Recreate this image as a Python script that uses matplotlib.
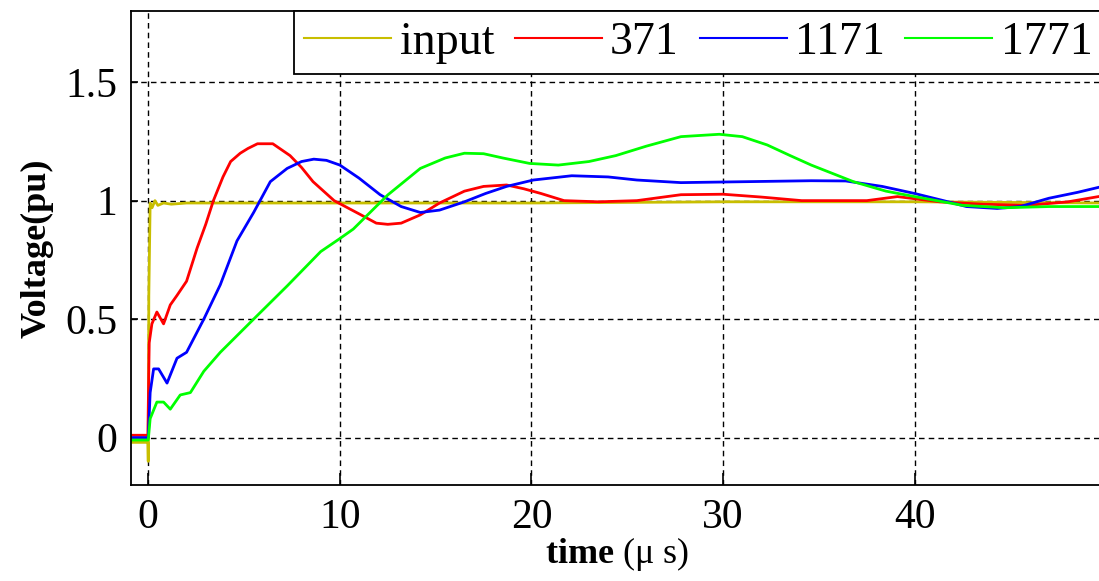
import matplotlib.pyplot as plt

plt.rcParams['font.family'] = ['Liberation Serif', 'DejaVu Serif']
plt.rcParams['mathtext.fontset'] = 'custom'
plt.rcParams['mathtext.rm'] = 'Liberation Serif'
plt.rcParams['mathtext.bf'] = 'Liberation Serif:bold'

# 读取的曲线数据 (time in us, voltage in pu)
x_input = [-0.9, -0.02, 0.0, 0.03, 0.1, 0.2, 0.35, 0.5, 0.8, 1.2, 2.0, 3.0, 5.0, 10.0, 20.0, 30.0, 40.0, 49.8]
y_input = [-0.02, -0.02, -0.1, 0.6, 0.99, 0.97, 1.0, 0.98, 0.99, 0.985, 0.99, 0.99, 0.99, 0.99, 0.99, 0.995, 0.995, 0.99]

x_371 = [-0.9, -0.02, 0.05, 0.19, 0.45, 0.8, 1.15, 1.5, 2.0, 2.55, 3.0, 3.4, 3.9, 4.3, 4.8, 5.2, 5.7,
         6.5, 7.4, 8.0, 8.6, 9.7, 11.1, 11.9, 12.5, 13.2, 14.2, 15.2, 16.5, 17.5, 18.7, 19.6, 20.5,
         21.7, 23.5, 25.5, 27.8, 30.0, 32.0, 34.1, 37.5, 39.1, 41.3, 43.5, 45.9, 48.0, 49.8]
y_371 = [0.01, 0.01, 0.4, 0.48, 0.53, 0.48, 0.56, 0.6, 0.66, 0.8, 0.9, 1.0, 1.1, 1.165, 1.2, 1.22, 1.24,
         1.24, 1.19, 1.14, 1.08, 1.0, 0.94, 0.905, 0.9, 0.905, 0.94, 0.99, 1.04, 1.06, 1.066, 1.05, 1.03,
         1.0, 0.995, 1.0, 1.025, 1.027, 1.015, 1.0, 1.0, 1.017, 0.995, 0.985, 0.98, 0.995, 1.02]

x_1171 = [-0.9, 0.0, 0.1, 0.28, 0.54, 0.98, 1.5, 2.0, 2.9, 3.76, 4.63, 5.5, 6.37, 7.25, 8.0, 8.64, 9.3,
          10.0, 11.0, 12.1, 13.2, 14.2, 15.2, 16.5, 17.6, 18.7, 20.1, 22.1, 24.0, 25.5, 27.8, 31.2, 34.6,
          36.4, 38.3, 40.0, 41.5, 42.7, 44.3, 45.5, 47.0, 48.5, 49.8]
y_1171 = [0.0, 0.0, 0.19, 0.29, 0.29, 0.23, 0.335, 0.36, 0.5, 0.645, 0.83, 0.95, 1.08, 1.136, 1.165, 1.175, 1.17,
          1.15, 1.095, 1.025, 0.975, 0.95, 0.96, 0.995, 1.03, 1.06, 1.087, 1.105, 1.1, 1.087, 1.076, 1.08, 1.084,
          1.083, 1.06, 1.03, 1.0, 0.975, 0.967, 0.975, 1.01, 1.035, 1.06]

x_1771 = [-0.9, 0.0, 0.1, 0.45, 0.8, 1.15, 1.67, 2.2, 2.9, 3.76, 5.5, 7.25, 9.0, 10.0, 10.7, 12.5, 14.2,
          15.5, 16.5, 17.5, 18.5, 19.9, 21.4, 23.0, 24.4, 26.0, 27.8, 29.8, 31.0, 32.3, 33.5, 34.6, 36.8,
          38.5, 40.0, 42.5, 44.7, 47.0, 49.8]
y_1771 = [-0.01, -0.01, 0.08, 0.15, 0.15, 0.12, 0.18, 0.19, 0.28, 0.36, 0.5, 0.64, 0.785, 0.84, 0.88, 1.024, 1.136,
          1.18, 1.2, 1.198, 1.18, 1.157, 1.15, 1.165, 1.19, 1.23, 1.27, 1.28, 1.27, 1.235, 1.19, 1.15, 1.08,
          1.04, 1.017, 0.98, 0.97, 0.975, 0.975]

x_ticks = [0, 10, 20, 30, 40]
y_ticks = [0, 0.5, 1, 1.5]
y_tick_labels = ['0', '0.5', '1', '1.5']

fig = plt.figure(figsize=(10.99, 5.81), dpi=100)
ax = fig.add_axes([0.1192, 0.1652, 0.884, 0.8158])

ax.plot(x_input, y_input, color='#C8BE00', linewidth=2.0, label='input')
ax.plot(x_371, y_371, color='#FF0000', linewidth=2.0, label='371')
ax.plot(x_1171, y_1171, color='#0000FF', linewidth=2.0, label='1171')
ax.plot(x_1771, y_1771, color='#00FF00', linewidth=2.0, label='1771')

ax.set_xlim(-0.9, 49.8)
ax.set_ylim(-0.2, 1.8)
ax.set_xticks(x_ticks)
ax.set_yticks(y_ticks)
ax.set_yticklabels(y_tick_labels)
ax.tick_params(axis='both', direction='in', labelsize=30, width=1.2)
ax.tick_params(axis='x', length=9, pad=10)
ax.tick_params(axis='y', length=5, pad=10)
ax.grid(True, color='black', linestyle=(0, (4, 3)), linewidth=1.0)
for s in ax.spines.values():
    s.set_linewidth(1.3)

ax.set_xlabel(r'$\mathbf{time}$ (μ s)', fontsize=26, labelpad=-2)
ax.set_ylabel('Voltage(pu)', fontsize=26, fontweight='bold', labelpad=8)

leg = ax.legend(loc='upper right', ncol=4, fontsize=33, frameon=True, fancybox=False,
                edgecolor='black', framealpha=1, borderaxespad=0, handlelength=1.9,
                handletextpad=0.18, columnspacing=0.45, borderpad=0.22)
leg.get_frame().set_linewidth(1.3)
for line in leg.get_lines():
    line.set_linewidth(1.5)

plt.savefig('out.png', dpi=100)
